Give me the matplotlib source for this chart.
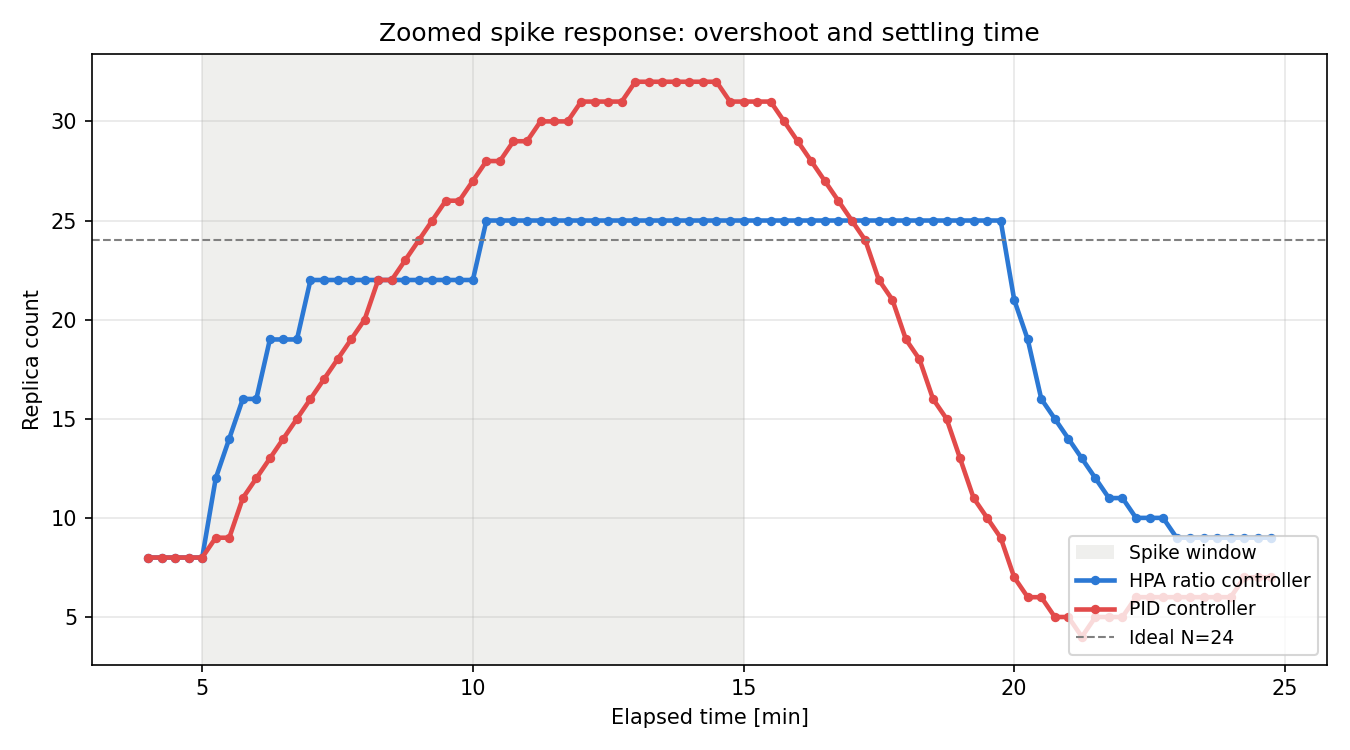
import numpy as np
import matplotlib
matplotlib.use('Agg')
import matplotlib.pyplot as plt

# elapsed time, one sample every 15 s
minutes = np.arange(4.0, 25.0, 0.25)

hpa_replicas = [
    8, 8, 8, 8, 8, 12, 14, 16, 16, 19, 19, 19,
    22, 22, 22, 22, 22, 22, 22, 22, 22, 22, 22, 22, 22,
    25, 25, 25, 25, 25, 25, 25, 25, 25, 25, 25, 25, 25, 25, 25, 25,
    25, 25, 25, 25, 25, 25, 25, 25, 25, 25, 25, 25, 25, 25, 25, 25,
    25, 25, 25, 25, 25, 25, 25,
    21, 19, 16, 15, 14, 13, 12, 11, 11, 10, 10, 10,
    9, 9, 9, 9, 9, 9, 9, 9,
]

pid_replicas = [
    8, 8, 8, 8, 8, 9, 9, 11, 12, 13, 14, 15, 16, 17, 18, 19, 20,
    22, 22, 23, 24, 25, 26, 26, 27, 28, 28, 29, 29, 30, 30, 30,
    31, 31, 31, 31, 32, 32, 32, 32, 32, 32, 32, 31, 31, 31, 31,
    30, 29, 28, 27, 26, 25, 24, 22, 21, 19, 18, 16, 15, 13, 11, 10, 9,
    7, 6, 6, 5, 5, 4, 5, 5, 5, 6, 6, 6, 6, 6, 6, 6, 6, 7, 7, 7,
]

spike_start, spike_end = 5, 15
ideal_n = 24

fig, ax = plt.subplots(figsize=(9, 5), dpi=150)

ax.axvspan(spike_start, spike_end, facecolor='#808070', alpha=0.12, label='Spike window')
ax.plot(minutes, hpa_replicas, color='#2b78d4', lw=2.2, marker='o', ms=3.5,
        label='HPA ratio controller')
ax.plot(minutes, pid_replicas, color='#e24a4a', lw=2.2, marker='o', ms=3.5,
        label='PID controller')
ax.axhline(ideal_n, color='gray', ls='--', lw=1, label=f'Ideal N={ideal_n}')

ax.set_title('Zoomed spike response: overshoot and settling time')
ax.set_xlabel('Elapsed time [min]')
ax.set_ylabel('Replica count')
ax.grid(True, alpha=0.3)
ax.legend(loc='lower right', fontsize=9)

plt.tight_layout()
plt.savefig('out.png')
